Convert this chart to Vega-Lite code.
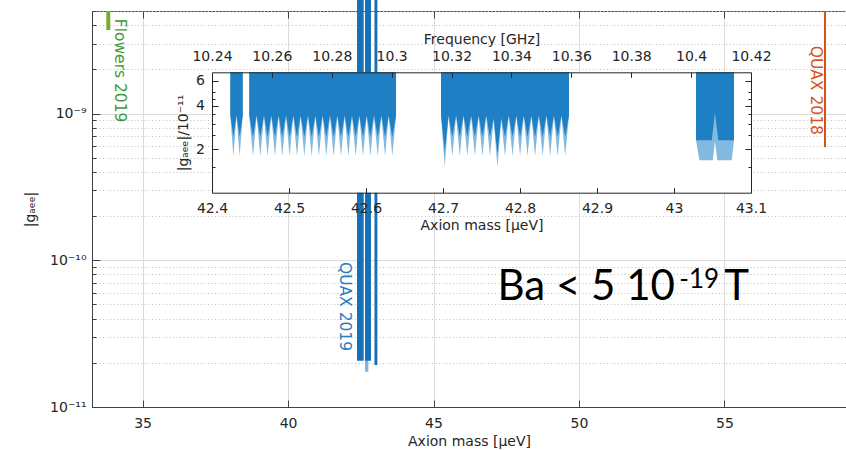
{
  "$schema": "https://vega.github.io/schema/vega-lite/v6.json",
  "width": 754,
  "height": 396,
  "autosize": {"type": "none"},
  "padding": {"left": 92, "top": 11, "right": 0, "bottom": 43},
  "background": "white",
  "config": {
    "view": {"stroke": "#555555", "strokeWidth": 1},
    "font": "DejaVu Sans",
    "axis": {"labelFont": "DejaVu Sans", "titleFont": "DejaVu Sans", "labelColor": "#262626", "titleColor": "#262626", "titleFontWeight": "normal", "labelFontSize": 14, "titleFontSize": 14, "tickColor": "#262626", "domainColor": "#262626", "labelOverlap": false, "labelFlush": false, "labelBound": false}
  },
  "datasets": {
    "main": [
      {"lo": 42.646, "hi": 42.76, "g": 1.74e-11, "k": "l"},
      {"lo": 42.37, "hi": 42.60, "g": 2.07e-11, "k": "d"},
      {"lo": 42.646, "hi": 42.85, "g": 2.07e-11, "k": "d"},
      {"lo": 42.97, "hi": 43.07, "g": 1.93e-11, "k": "d"}
    ],
    "lines": [
      {"name": "Flowers 2019", "m": 33.82, "g1": 3.71e-9, "g2": 5e-9},
      {"name": "QUAX 2018", "m": 58.458, "g1": 5.9e-10, "g2": 5e-9}
    ],
    "inset": [
      {"b":1,"m":42.4238,"d":3.45,"l":3.38},
      {"b":1,"m":42.4278,"d":2.45,"l":1.79},
      {"b":1,"m":42.4318,"d":3.45,"l":3.38},
      {"b":1,"m":42.4359,"d":2.45,"l":1.79},
      {"b":1,"m":42.4399,"d":3.45,"l":3.38},
      {"b":2,"m":42.4484,"d":3.45,"l":3.38},
      {"b":2,"m":42.4532,"d":2.45,"l":1.79},
      {"b":2,"m":42.4579,"d":3.45,"l":3.38},
      {"b":2,"m":42.4627,"d":2.45,"l":1.79},
      {"b":2,"m":42.4675,"d":3.45,"l":3.38},
      {"b":2,"m":42.4722,"d":2.45,"l":1.79},
      {"b":2,"m":42.4770,"d":3.45,"l":3.38},
      {"b":2,"m":42.4818,"d":2.45,"l":1.79},
      {"b":2,"m":42.4865,"d":3.45,"l":3.38},
      {"b":2,"m":42.4913,"d":2.45,"l":1.79},
      {"b":2,"m":42.4961,"d":3.45,"l":3.38},
      {"b":2,"m":42.5008,"d":2.45,"l":1.79},
      {"b":2,"m":42.5056,"d":3.45,"l":3.38},
      {"b":2,"m":42.5104,"d":2.45,"l":1.79},
      {"b":2,"m":42.5151,"d":3.45,"l":3.38},
      {"b":2,"m":42.5199,"d":2.45,"l":1.79},
      {"b":2,"m":42.5246,"d":3.45,"l":3.38},
      {"b":2,"m":42.5294,"d":2.45,"l":1.79},
      {"b":2,"m":42.5342,"d":3.45,"l":3.38},
      {"b":2,"m":42.5389,"d":2.45,"l":1.79},
      {"b":2,"m":42.5437,"d":3.45,"l":3.38},
      {"b":2,"m":42.5485,"d":2.45,"l":1.79},
      {"b":2,"m":42.5532,"d":3.45,"l":3.38},
      {"b":2,"m":42.5580,"d":2.45,"l":1.79},
      {"b":2,"m":42.5628,"d":3.45,"l":3.38},
      {"b":2,"m":42.5675,"d":2.45,"l":1.79},
      {"b":2,"m":42.5723,"d":3.45,"l":3.38},
      {"b":2,"m":42.5771,"d":2.45,"l":1.79},
      {"b":2,"m":42.5818,"d":3.45,"l":3.38},
      {"b":2,"m":42.5866,"d":2.45,"l":1.79},
      {"b":2,"m":42.5914,"d":3.45,"l":3.38},
      {"b":2,"m":42.5961,"d":2.45,"l":1.79},
      {"b":2,"m":42.6009,"d":3.45,"l":3.38},
      {"b":2,"m":42.6057,"d":2.45,"l":1.79},
      {"b":2,"m":42.6104,"d":3.45,"l":3.38},
      {"b":2,"m":42.6152,"d":2.45,"l":1.79},
      {"b":2,"m":42.6199,"d":3.45,"l":3.38},
      {"b":2,"m":42.6247,"d":2.45,"l":1.79},
      {"b":2,"m":42.6295,"d":3.45,"l":3.38},
      {"b":2,"m":42.6342,"d":2.45,"l":1.79},
      {"b":2,"m":42.6390,"d":3.45,"l":3.38},
      {"b":3,"m":42.6974,"d":3.45,"l":3.38},
      {"b":3,"m":42.7023,"d":1.95,"l":1.50},
      {"b":3,"m":42.7072,"d":3.45,"l":3.38},
      {"b":3,"m":42.7121,"d":2.45,"l":1.79},
      {"b":3,"m":42.7170,"d":3.45,"l":3.38},
      {"b":3,"m":42.7218,"d":2.45,"l":1.79},
      {"b":3,"m":42.7267,"d":3.45,"l":3.38},
      {"b":3,"m":42.7316,"d":2.45,"l":1.79},
      {"b":3,"m":42.7365,"d":3.45,"l":3.38},
      {"b":3,"m":42.7414,"d":2.45,"l":1.79},
      {"b":3,"m":42.7463,"d":3.45,"l":3.38},
      {"b":3,"m":42.7512,"d":2.45,"l":1.79},
      {"b":3,"m":42.7561,"d":3.45,"l":3.38},
      {"b":3,"m":42.7610,"d":2.45,"l":1.79},
      {"b":3,"m":42.7658,"d":3.30,"l":3.20},
      {"b":3,"m":42.7707,"d":1.85,"l":1.50},
      {"b":3,"m":42.7756,"d":3.30,"l":3.20},
      {"b":3,"m":42.7805,"d":2.45,"l":1.79},
      {"b":3,"m":42.7854,"d":3.45,"l":3.38},
      {"b":3,"m":42.7903,"d":2.45,"l":1.79},
      {"b":3,"m":42.7952,"d":3.45,"l":3.38},
      {"b":3,"m":42.8001,"d":2.45,"l":1.79},
      {"b":3,"m":42.8049,"d":3.45,"l":3.38},
      {"b":3,"m":42.8098,"d":2.45,"l":1.79},
      {"b":3,"m":42.8147,"d":3.45,"l":3.38},
      {"b":3,"m":42.8196,"d":2.45,"l":1.79},
      {"b":3,"m":42.8245,"d":3.45,"l":3.38},
      {"b":3,"m":42.8294,"d":2.45,"l":1.79},
      {"b":3,"m":42.8343,"d":3.45,"l":3.38},
      {"b":3,"m":42.8392,"d":2.45,"l":1.79},
      {"b":3,"m":42.8440,"d":3.45,"l":3.38},
      {"b":3,"m":42.8489,"d":2.45,"l":1.79},
      {"b":3,"m":42.8538,"d":3.45,"l":3.38},
      {"b":3,"m":42.8587,"d":2.45,"l":1.79},
      {"b":3,"m":42.8636,"d":3.45,"l":3.38},
      {"b":4,"m":43.0286,"d":2.31,"l":2.31},
      {"b":4,"m":43.0330,"d":2.31,"l":1.68},
      {"b":4,"m":43.0490,"d":2.31,"l":1.68},
      {"b":4,"m":43.0503,"d":2.64,"l":1.68},
      {"b":4,"m":43.0532,"d":3.61,"l":2.28},
      {"b":4,"m":43.0562,"d":2.64,"l":1.68},
      {"b":4,"m":43.0575,"d":2.31,"l":1.68},
      {"b":4,"m":43.0749,"d":2.31,"l":1.68},
      {"b":4,"m":43.0770,"d":2.31,"l":2.08},
      {"b":4,"m":43.0779,"d":2.31,"l":2.31}
    ]
  },
  "layer": [
    {
      "layer": [
        {
          "data": {"name": "main"},
          "mark": {"type": "rect"},
          "encoding": {
            "x": {"field": "lo", "type": "quantitative",
              "scale": {"domain": [33.26, 59.18], "nice": false, "zero": false},
              "axis": {"orient": "bottom", "values": [35, 40, 45, 50, 55], "title": "Axion mass [μeV]", "grid": true, "gridColor": "#dcdcdc", "gridWidth": 1, "tickSize": -7, "labelPadding": 16, "titlePadding": 4, "domainColor": "#404040", "tickColor": "#404040", "zindex": 0}},
            "x2": {"field": "hi"},
            "y": {"field": "g", "type": "quantitative",
              "scale": {"type": "log", "domain": [1e-11, 5e-9], "nice": false},
              "axis": {"orient": "left",
                "values": [1e-11,2e-11,3e-11,4e-11,5e-11,6e-11,7e-11,8e-11,9e-11,1e-10,2e-10,3e-10,4e-10,5e-10,6e-10,7e-10,8e-10,9e-10,1e-9,2e-9,3e-9,4e-9,5e-9],
                "labelExpr": "datum.value == 1e-11 ? '10⁻¹¹' : datum.value == 1e-10 ? '10⁻¹⁰' : datum.value == 1e-9 ? '10⁻⁹' : ''",
                "title": "|gₐₑₑ|", "titlePadding": 12, "grid": true,
                "gridColor": {"condition": {"test": "datum.value == 1e-11 || datum.value == 1e-10 || datum.value == 1e-9", "value": "#dcdcdc"}, "value": "#bdbdbd"},
                "gridDash": {"condition": {"test": "datum.value == 1e-11 || datum.value == 1e-10 || datum.value == 1e-9", "value": []}, "value": [1, 2.5]},
                "tickSize": {"condition": {"test": "datum.value == 1e-11 || datum.value == 1e-10 || datum.value == 1e-9", "value": -8}, "value": -4},
                "labelPadding": 14, "domainColor": "#404040", "tickColor": "#404040", "zindex": 0}},
            "y2": {"datum": 6e-9},
            "color": {"field": "k", "type": "nominal", "scale": {"domain": ["l", "d"], "range": ["#7fb3e0", "#1570ba"]}, "legend": null}
          }
        },
        {
          "data": {"name": "lines"},
          "transform": [{"filter": "datum.name == 'Flowers 2019'"}],
          "mark": {"type": "rule", "color": "#77ac30", "strokeWidth": 4},
          "encoding": {
            "x": {"field": "m", "type": "quantitative"},
            "y": {"field": "g1", "type": "quantitative"},
            "y2": {"field": "g2"}
          }
        },
        {
          "data": {"name": "lines"},
          "transform": [{"filter": "datum.name == 'QUAX 2018'"}],
          "mark": {"type": "rule", "color": "#d95319", "strokeWidth": 2},
          "encoding": {
            "x": {"field": "m", "type": "quantitative"},
            "y": {"field": "g1", "type": "quantitative"},
            "y2": {"field": "g2"}
          }
        },
        {
          "data": {"values": [{}]},
          "mark": {"type": "text", "text": "Flowers 2019", "angle": 90, "align": "left", "baseline": "middle", "fontSize": 15.5, "font": "DejaVu Sans", "color": "#3d9b35"},
          "encoding": {"x": {"datum": 34.21}, "y": {"datum": 4.43e-9}}
        },
        {
          "data": {"values": [{}]},
          "mark": {"type": "text", "text": "QUAX 2018", "angle": 90, "align": "left", "baseline": "middle", "fontSize": 15.5, "font": "DejaVu Sans", "color": "#d95319"},
          "encoding": {"x": {"datum": 58.14}, "y": {"datum": 2.9e-9}}
        },
        {
          "data": {"values": [{}]},
          "mark": {"type": "text", "text": "QUAX 2019", "angle": 90, "align": "left", "baseline": "middle", "fontSize": 15.5, "font": "DejaVu Sans", "color": "#2a7bbf"},
          "encoding": {"x": {"datum": 41.97}, "y": {"datum": 9.74e-11}}
        },
        {
          "data": {"values": [{}]},
          "mark": {"type": "text", "text": "Ba < 5 10", "align": "left", "baseline": "alphabetic", "fontSize": 42, "font": "Lato", "color": "black"},
          "encoding": {"x": {"datum": 47.20}, "y": {"datum": 5.36e-11}}
        },
        {
          "data": {"values": [{}]},
          "mark": {"type": "text", "text": "-19", "align": "left", "baseline": "alphabetic", "fontSize": 26, "font": "Lato", "color": "black"},
          "encoding": {"x": {"datum": 53.45}, "y": {"datum": 6.47e-11}}
        },
        {
          "data": {"values": [{}]},
          "mark": {"type": "text", "text": "T", "align": "left", "baseline": "alphabetic", "fontSize": 42, "font": "Lato", "color": "black"},
          "encoding": {"x": {"datum": 54.997}, "y": {"datum": 5.36e-11}}
        }
      ]
    },
    {
      "data": {"values": [{"t": 33.26}]},
      "mark": {"type": "point", "opacity": 0},
      "encoding": {
        "x": {"field": "t", "type": "quantitative", "scale": {"domain": [33.26, 59.18], "nice": false, "zero": false},
          "axis": {"orient": "top", "values": [35, 40, 45, 50, 55], "labels": false, "tickSize": -7, "domain": false, "grid": false, "title": null, "tickColor": "#404040", "zindex": 0}}
      }
    },
    {
      "layer": [
        {
          "data": {"values": [{}]},
          "mark": {"type": "rect", "fill": "white"},
          "encoding": {
            "x": {"datum": 42.4, "type": "quantitative",
              "scale": {"domain": [42.4, 43.1], "range": [120, 659], "nice": false, "zero": false},
              "axis": {"orient": "bottom", "offset": -214.3, "values": [42.4, 42.5, 42.6, 42.7, 42.8, 42.9, 43, 43.1], "format": "~g", "tickSize": -5, "labelPadding": 14, "title": "Axion mass [μeV]", "titlePadding": 3, "grid": false, "zindex": 1}},
            "x2": {"datum": 43.1},
            "y": {"datum": 1, "type": "quantitative",
              "scale": {"type": "log", "domain": [1, 6.85], "range": [181.7, 61.3], "nice": false},
              "axis": {"orient": "left", "offset": -120, "values": [1.5, 2, 2.5, 3, 3.5, 4, 4.5, 5, 6],
                "labelExpr": "datum.value == 2 ? '2' : datum.value == 4 ? '4' : datum.value == 6 ? '6' : ''",
                "tickSize": {"condition": {"test": "datum.value == 2 || datum.value == 4 || datum.value == 6", "value": -6}, "value": -3},
                "labelPadding": 13.5, "title": "|gₐₑₑ|/10⁻¹¹", "titlePadding": 5, "grid": false, "zindex": 1}},
            "y2": {"datum": 6.85}
          }
        },
        {
          "data": {"name": "inset"},
          "mark": {"type": "area", "color": "#82b9e1"},
          "encoding": {
            "x": {"field": "m", "type": "quantitative"},
            "y": {"field": "l", "type": "quantitative"},
            "y2": {"datum": 6.85},
            "detail": {"field": "b", "type": "nominal"}
          }
        },
        {
          "data": {"name": "inset"},
          "mark": {"type": "area", "color": "#1f7fc4"},
          "encoding": {
            "x": {"field": "m", "type": "quantitative"},
            "y": {"field": "d", "type": "quantitative"},
            "y2": {"datum": 6.85},
            "detail": {"field": "b", "type": "nominal"}
          }
        }
      ]
    },
    {
      "data": {"values": [{"f": 10.24, "v": 1}, {"f": 10.42, "v": 6.85}]},
      "mark": {"type": "point", "opacity": 0},
      "encoding": {
        "x": {"field": "f", "type": "quantitative",
          "scale": {"domain": [10.24, 10.42], "range": [120, 659], "nice": false, "zero": false},
          "axis": {"orient": "top", "offset": -61.3, "values": [10.24, 10.26, 10.28, 10.3, 10.32, 10.34, 10.36, 10.38, 10.4, 10.42], "format": "~g", "tickSize": -5, "labelPadding": 14, "title": "Frequency [GHz]", "titlePadding": 3, "grid": false, "zindex": 1}},
        "y": {"field": "v", "type": "quantitative",
          "scale": {"type": "log", "domain": [1, 6.85], "range": [181.7, 61.3], "nice": false},
          "axis": {"orient": "right", "offset": -95, "values": [1.5, 2, 2.5, 3, 3.5, 4, 4.5, 5, 6], "labels": false,
            "tickSize": {"condition": {"test": "datum.value == 2 || datum.value == 4 || datum.value == 6", "value": -6}, "value": -3},
            "grid": false, "title": null, "zindex": 1}}
      }
    }
  ],
  "resolve": {"scale": {"x": "independent", "y": "independent"}, "axis": {"x": "independent", "y": "independent"}}
}
